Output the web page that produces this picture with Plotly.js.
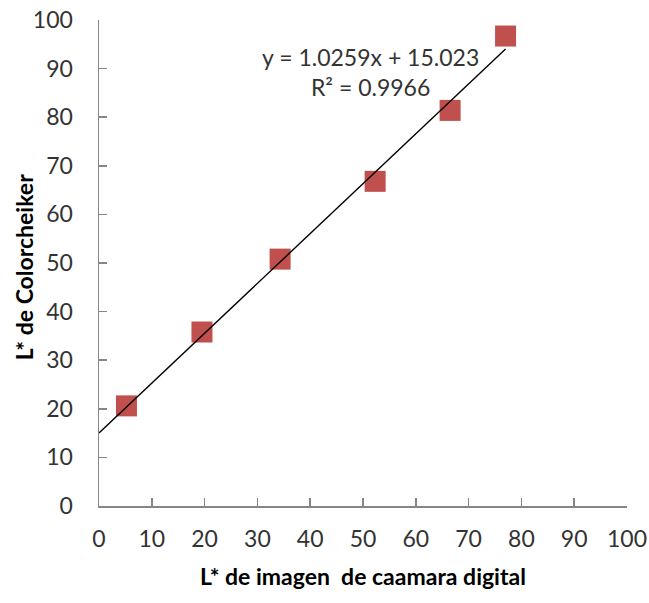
<!DOCTYPE html>
<html>
<head>
<meta charset="utf-8">
<script src="https://cdn.plot.ly/plotly-3.0.1.min.js"></script>
<style>html,body{margin:0;padding:0;background:#fff;}#chart{width:649px;height:603px;}</style>
</head>
<body>
<div id="chart"></div>
<script>
// Data
const cameraL = [5.2, 19.5, 34.3, 52.3, 66.5, 77.0];
const checkerL = [20.6, 35.8, 50.8, 66.8, 81.4, 96.7];
// Linear trendline coefficients shown on the chart
const slope = 1.0259;
const intercept = 15.023;
const r2 = 0.9966;
const xTicks = [0, 10, 20, 30, 40, 50, 60, 70, 80, 90, 100];
const yTicks = [0, 10, 20, 30, 40, 50, 60, 70, 80, 90, 100];
const xTitle = 'L* de imagen \u00a0de caamara digital';
const yTitle = 'L* de Colorcheiker';

const trendX = [0, Math.max(...cameraL)];
const trendY = trendX.map(x => slope * x + intercept);

const font = "Lato, 'Open Sans', sans-serif";
const axisBase = {
  range: [0, 100], showgrid: false, zeroline: false, showline: true,
  linecolor: '#868686', linewidth: 1.5, ticks: 'inside', ticklen: 8,
  tickcolor: '#868686', tickwidth: 1.5,
  tickfont: {family: font, size: 23, color: '#333'}, automargin: false, fixedrange: true
};

Plotly.newPlot('chart', [
  {x: cameraL, y: checkerL, type: 'scatter', mode: 'markers',
   marker: {symbol: 'square', size: 21, color: '#C0504D', line: {width: 0}}, hoverinfo: 'none'},
  {x: trendX, y: trendY, type: 'scatter', mode: 'lines',
   line: {color: '#000', width: 1.4}, hoverinfo: 'none'}
], {
  width: 649, height: 603,
  margin: {l: 99, r: 22, t: 19.5, b: 97},
  paper_bgcolor: '#fff', plot_bgcolor: '#fff', showlegend: false,
  xaxis: Object.assign({}, axisBase, {tickvals: xTicks, ticktext: xTicks.map(String), ticklabelstandoff: 12,
    title: {text: xTitle, font: {family: font, size: 23, color: '#000', weight: 'bold'}, standoff: 18}}),
  yaxis: Object.assign({}, axisBase, {tickvals: yTicks, ticktext: yTicks.map(String), ticklabelstandoff: 20}),
  annotations: [{
    xref: 'paper', yref: 'paper', x: (370 - 99) / 528, y: 1 - (72 - 19.5) / 486.5,
    xanchor: 'center', yanchor: 'middle',
    text: 'y = ' + slope + 'x + ' + intercept + '<br>R\u00b2 = ' + r2,
    showarrow: false, font: {family: font, size: 23, color: '#333'}, align: 'center'
  }, {
    xref: 'paper', yref: 'paper', x: (24 - 99) / 528, y: 1 - (267 - 19.5) / 486.5,
    xanchor: 'center', yanchor: 'middle', textangle: -90,
    text: yTitle, showarrow: false,
    font: {family: font, size: 23, color: '#000', weight: 'bold'}
  }]
}, {staticPlot: true});
</script>
</body>
</html>
